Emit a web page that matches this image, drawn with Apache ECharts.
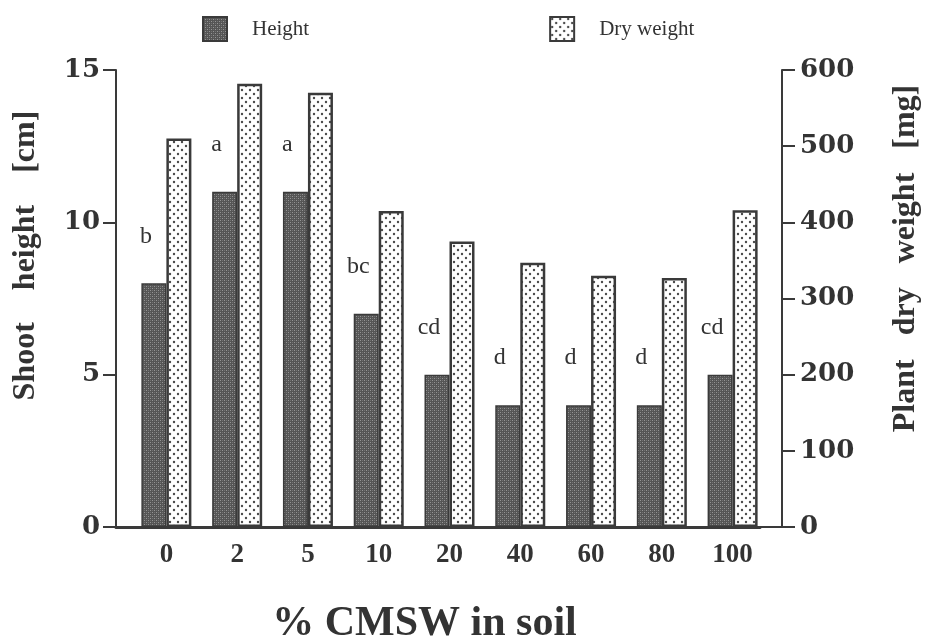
<!DOCTYPE html>
<html>
<head>
<meta charset="utf-8">
<script src="https://cdn.jsdelivr.net/npm/echarts@6/dist/echarts.min.js"></script>
<style>
html,body{margin:0;padding:0;background:#fff;}
#chart{width:929px;height:643px;}
</style>
</head>
<body>
<div id="chart"></div>
<script>
// ---- data ----
const categories = ['0', '2', '5', '10', '20', '40', '60', '80', '100'];
const heightValues = [8, 11, 11, 7, 5, 4, 4, 4, 5];          // Shoot height [cm]
const dryWeightValues = [510, 582, 570, 415, 375, 347, 330, 327, 416]; // Plant dry weight [mg]
const letters = ['b', 'a', 'a', 'bc', 'cd', 'd', 'd', 'd', 'cd'];
const leftTicks = { min: 0, max: 15, interval: 5 };
const rightTicks = { min: 0, max: 600, interval: 100 };

// ---- patterns ----
function heightPattern() {
  const c = document.createElement('canvas');
  c.width = 4; c.height = 4;
  const g = c.getContext('2d');
  g.fillStyle = '#555555'; g.fillRect(0, 0, 4, 4);
  g.fillStyle = '#959595';
  g.fillRect(0, 0, 1, 1); g.fillRect(2, 2, 1, 1);
  g.fillStyle = '#727272';
  g.fillRect(2, 0, 1, 1); g.fillRect(0, 2, 1, 1);
  return c;
}
function dotPattern() {
  const c = document.createElement('canvas');
  c.width = 8; c.height = 8;
  const g = c.getContext('2d');
  g.fillStyle = '#ffffff'; g.fillRect(0, 0, 8, 8);
  g.fillStyle = '#4a4a4a';
  g.beginPath(); g.arc(2, 2, 1.2, 0, Math.PI * 2); g.fill();
  g.beginPath(); g.arc(6, 6, 1.2, 0, Math.PI * 2); g.fill();
  return c;
}

const serif = '"Liberation Serif", "DejaVu Serif", serif';
const wideSerif = '"DejaVu Serif", "Liberation Serif", serif';
const ink = '#333333';
const lineColor = '#3a3a3a';

const chart = echarts.init(document.getElementById('chart'), null, { renderer: 'canvas' });

const option = {
  backgroundColor: '#ffffff',
  animation: false,
  legend: {
    left: 197, top: 11,
    icon: 'rect',
    itemWidth: 24, itemHeight: 24,
    itemGap: 240,
    textStyle: { fontFamily: serif, fontSize: 21, color: ink, padding: [0, 0, 0, 20] },
    data: ['Height', 'Dry weight']
  },
  grid: [
    { left: 116, right: 147, top: 70, bottom: 116, outerBoundsMode: 'none', containLabel: false },   // frame + visible y axes
    { left: 131, right: 161, top: 70, bottom: 116, outerBoundsMode: 'none', containLabel: false },   // bars
    { left: 116, right: 169, top: 70, bottom: 116, outerBoundsMode: 'none', containLabel: false }    // baseline
  ],
  xAxis: [
    {
      gridIndex: 0, type: 'value', min: 0, max: 1, position: 'top',
      axisLine: { show: true, lineStyle: { color: lineColor, width: 2 } },
      axisTick: { show: false }, axisLabel: { show: false }, splitLine: { show: false }
    },
    {
      gridIndex: 1, type: 'category', data: categories,
      axisLine: { show: false }, axisTick: { show: false },
      axisLabel: { fontFamily: serif, fontSize: 27, fontWeight: 'bold', color: ink, margin: 15 },
      name: '% CMSW in soil', nameLocation: 'middle', nameGap: 76,
      nameTextStyle: { fontFamily: serif, fontSize: 42, fontWeight: 'bold', color: ink, padding: [0, 50, 0, 0] }
    },
    {
      gridIndex: 2, type: 'value', min: 0, max: 1, position: 'bottom',
      axisLine: { show: true, lineStyle: { color: lineColor, width: 3 } },
      axisTick: { show: false }, axisLabel: { show: false }, splitLine: { show: false }
    }
  ],
  yAxis: [
    {
      gridIndex: 0, type: 'value', position: 'left',
      min: leftTicks.min, max: leftTicks.max, interval: leftTicks.interval,
      axisLine: { show: true, lineStyle: { color: lineColor, width: 2 } },
      axisTick: { show: true, length: 13, lineStyle: { color: lineColor, width: 2 } },
      axisLabel: { fontFamily: wideSerif, fontSize: 26, fontWeight: 'bold', color: ink, margin: 16 },
      splitLine: { show: false },
      name: 'Shoot    height    [cm]', nameLocation: 'middle', nameGap: 74,
      nameTextStyle: { fontFamily: serif, fontSize: 32, fontWeight: 'bold', color: ink, padding: [0, 0, 0, 86] }
    },
    {
      gridIndex: 0, type: 'value', position: 'right',
      min: rightTicks.min, max: rightTicks.max, interval: rightTicks.interval,
      axisLine: { show: true, lineStyle: { color: lineColor, width: 2 } },
      axisTick: { show: true, length: 13, lineStyle: { color: lineColor, width: 2 } },
      axisLabel: { fontFamily: wideSerif, fontSize: 26, fontWeight: 'bold', color: ink, margin: 18 },
      splitLine: { show: false },
      name: 'Plant   dry   weight   [mg]', nameLocation: 'middle', nameGap: 108, nameRotate: 90,
      nameTextStyle: { fontFamily: serif, fontSize: 32, fontWeight: 'bold', color: ink, padding: [0, 0, 0, 80] }
    },
    {
      gridIndex: 1, type: 'value', show: false,
      min: leftTicks.min, max: leftTicks.max, interval: leftTicks.interval
    },
    {
      gridIndex: 1, type: 'value', show: false,
      min: rightTicks.min, max: rightTicks.max, interval: rightTicks.interval
    },
    { gridIndex: 2, type: 'value', show: false, min: 0, max: 1 }
  ],
  series: [
    {
      name: 'Height', type: 'bar', xAxisIndex: 1, yAxisIndex: 2,
      data: heightValues, barWidth: 25, barGap: '0%',
      itemStyle: {
        color: { image: heightPattern(), repeat: 'repeat' },
        borderColor: '#3a3a3a', borderWidth: 1.5
      },
      label: {
        show: true, position: 'top', offset: [-8, -30],
        formatter: p => letters[p.dataIndex],
        fontFamily: serif, fontSize: 24, color: ink
      },
      z: 2
    },
    {
      name: 'Dry weight', type: 'bar', xAxisIndex: 1, yAxisIndex: 3,
      data: dryWeightValues, barWidth: 25, barGap: '0%',
      itemStyle: {
        color: { image: dotPattern(), repeat: 'repeat' },
        borderColor: '#3a3a3a', borderWidth: 2.5
      },
      z: 2
    }
  ]
};
chart.setOption(option);
</script>
</body>
</html>
